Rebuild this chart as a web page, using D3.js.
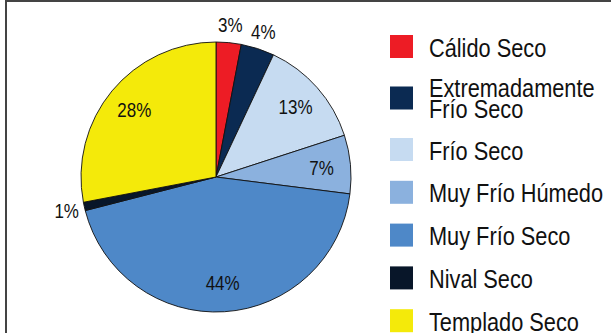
<!DOCTYPE html>
<html>
<head>
<meta charset="utf-8">
<script src="https://cdn.jsdelivr.net/npm/d3@7"></script>
<style>
  html, body { margin: 0; padding: 0; background: #fff; }
  svg { display: block; }
  text { font-family: "Liberation Sans", Arial, sans-serif; fill: #111; }
</style>
</head>
<body>
<svg id="chart" width="611" height="333"></svg>
<script>
// Climate classes and their share of the area (percent)
const categories = [
  "Cálido Seco",
  "Extremadamente Frío Seco",
  "Frío Seco",
  "Muy Frío Húmedo",
  "Muy Frío Seco",
  "Nival Seco",
  "Templado Seco"
];
const legendLines = [
  ["Cálido Seco"],
  ["Extremadamente", "Frío Seco"],
  ["Frío Seco"],
  ["Muy Frío Húmedo"],
  ["Muy Frío Seco"],
  ["Nival Seco"],
  ["Templado Seco"]
];
const shares = [3, 4, 13, 7, 44, 1, 28];
const palette = ["#ED1C25", "#0B2A52", "#C6DBF1", "#8BB1DE", "#4E88C8", "#081629", "#F4EA0A"];

const svg = d3.select("#chart");
const W = 611, H = 333;

// outer frame
svg.append("rect")
  .attr("x", 6).attr("y", 1)
  .attr("width", W + 20).attr("height", H + 20)
  .attr("fill", "none")
  .attr("stroke", "#444")
  .attr("stroke-width", 2);

const cx = 216, cy = 177, R = 135;

const color = d3.scaleOrdinal().domain(categories).range(palette);

const pie = d3.pie().sort(null).value(d => d.v);
const data = categories.map((c, i) => ({ c, v: shares[i] }));
const arcs = pie(data);

const arc = d3.arc().innerRadius(0).outerRadius(R);
const inLabel = d3.arc().innerRadius(106).outerRadius(106);
const outLabel = d3.arc().innerRadius(153).outerRadius(153);

const g = svg.append("g").attr("transform", `translate(${cx},${cy})`);

g.selectAll("path.slice")
  .data(arcs)
  .join("path")
  .attr("class", "slice")
  .attr("d", arc)
  .attr("fill", d => color(d.data.c))
  .attr("stroke", "#111")
  .attr("stroke-width", 0.9)
  .attr("stroke-linejoin", "round");

// percentage labels: small slices get their label outside the pie
g.selectAll("text.pct")
  .data(arcs)
  .join("text")
  .attr("class", "pct")
  .attr("transform", d => {
    const p = (d.data.v < 5 ? outLabel : inLabel).centroid(d);
    return `translate(${p[0]},${p[1]}) scale(0.81,1)`;
  })
  .attr("text-anchor", "middle")
  .attr("dy", "0.36em")
  .style("font-size", "21px")
  .text(d => d.data.v + "%");

// legend
const legend = svg.append("g");
const swatch = 23;
const step = 42.8, extra = 8.7;
let yc = 46.5;
legendLines.forEach((lines, i) => {
  if (i > 0) {
    yc += step + extra * (legendLines[i - 1].length - 1) + extra * (lines.length - 1);
  }
  const item = legend.append("g");
  item.append("rect")
    .attr("x", 390).attr("y", yc - swatch / 2)
    .attr("width", swatch).attr("height", swatch)
    .attr("fill", color(categories[i]));
  const base = lines.length === 1 ? yc + 10 : yc - 1.2;
  const label = item.append("text")
    .attr("transform", `translate(429,${base}) scale(0.87,1)`)
    .style("font-size", "25px");
  lines.forEach((t, j) => {
    label.append("tspan")
      .attr("x", 0)
      .attr("dy", j === 0 ? 0 : 21)
      .text(t);
  });
});
</script>
</body>
</html>
